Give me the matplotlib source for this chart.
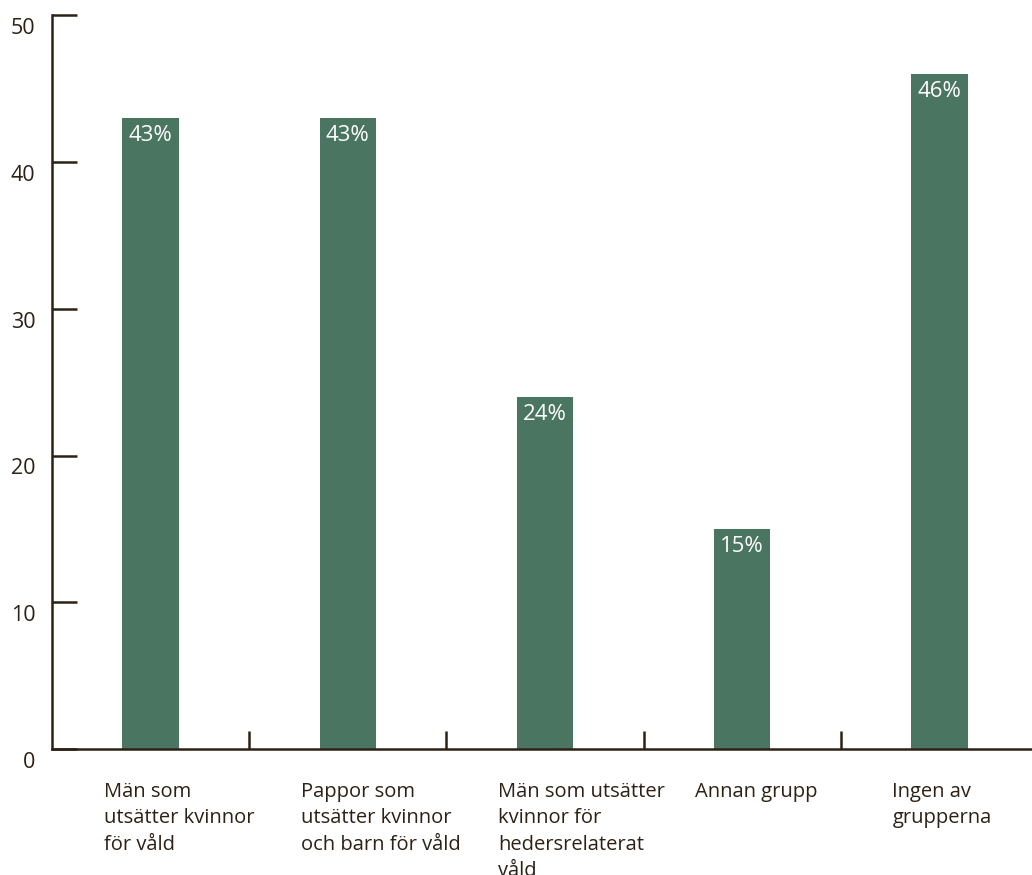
import matplotlib
matplotlib.use("Agg")
import matplotlib.pyplot as plt
from matplotlib.transforms import ScaledTranslation

categories = ["Män som\nutsätter kvinnor\nför våld",
              "Pappor som\nutsätter kvinnor\noch barn för våld",
              "Män som utsätter\nkvinnor för\nhedersrelaterat\nvåld",
              "Annan grupp",
              "Ingen av\ngrupperna"]
values = [43, 43, 24, 15, 46]
value_labels = ["43%", "43%", "24%", "15%", "46%"]
yticks = [0, 10, 20, 30, 40, 50]

plt.rcParams['font.family'] = ['Open Sans', 'DejaVu Sans']
ink = "#2d2116"
bar_color = "#4a7560"

fig = plt.figure(figsize=(10.32, 8.75), dpi=100)
ax = fig.add_axes([52/1032, 126/875, 986/1032, 733.75/875])

x = list(range(len(categories)))
ax.bar(x, values, width=0.285, color=bar_color, zorder=2)
ax.set_xlim(-0.5, len(categories) - 0.5)
ax.set_ylim(0, 50)

for s in ["top", "right"]:
    ax.spines[s].set_visible(False)
for s in ["left", "bottom"]:
    ax.spines[s].set_color(ink)
    ax.spines[s].set_linewidth(1.8)

ax.set_yticks(yticks)
ax.set_yticklabels([str(t) for t in yticks])
ax.tick_params(axis="y", direction="in", length=18, width=1.8, color=ink,
               labelsize=15.5, labelcolor=ink, pad=12)
ax.set_xticks([i + 0.5 for i in x[:-1]])
ax.set_xticklabels([])
ax.tick_params(axis="x", direction="in", length=13, width=1.8, color=ink)

off = ScaledTranslation(0, -11/100, fig.dpi_scale_trans)
for lab in ax.get_yticklabels():
    lab.set_transform(lab.get_transform() + off)

for i, (v, t) in enumerate(zip(values, value_labels)):
    ax.annotate(t, xy=(i, v), xycoords="data", xytext=(0, -18*0.72),
                textcoords="offset points", ha="center", va="center",
                color="white", fontsize=16, zorder=3)

for i, c in enumerate(categories):
    ax.annotate(c, xy=(i, 0), xycoords=("data", "axes fraction"),
                xytext=(-47*0.72, -33*0.72), textcoords="offset points",
                ha="left", va="top", color=ink, fontsize=14.5, linespacing=1.43)

fig.savefig("out.png", dpi=100)
